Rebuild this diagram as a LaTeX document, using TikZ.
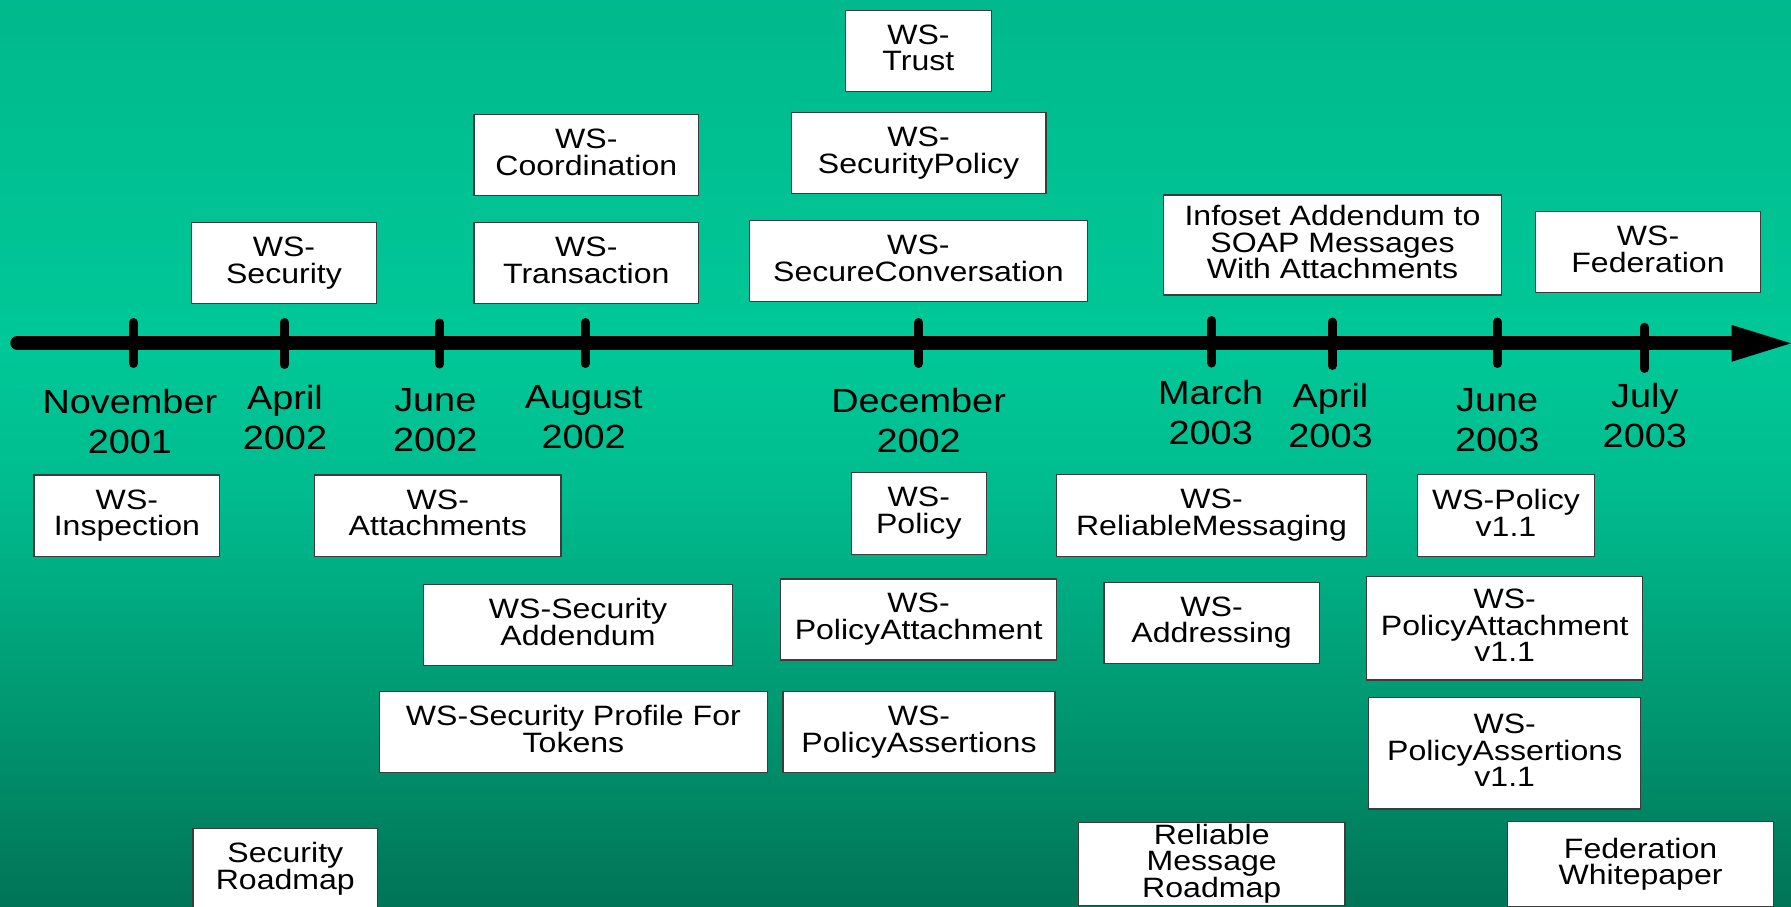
\documentclass[tikz,border=0pt]{standalone}
\usepackage{fontspec}
\newfontfamily\boxfont{Liberation Sans}[FakeStretch=1.145]
\newfontfamily\datefont{Liberation Sans}[FakeStretch=1.13]

\definecolor{bgtop}{RGB}{0,185,140}
\definecolor{bgbright}{RGB}{0,200,152}
\definecolor{bgmid}{RGB}{0,188,143}
\definecolor{bglow}{RGB}{0,152,113}
\definecolor{bgbot}{RGB}{0,116,86}
\definecolor{boxline}{RGB}{60,60,60}

% slide background, lightest just above the time axis
\pgfdeclareverticalshading{slidebg}{100bp}{color(0bp)=(bgbot); color(25bp)=(bgbot);
  color(36bp)=(bglow); color(48bp)=(bgmid); color(56bp)=(bgbright);
  color(75bp)=(bgtop); color(100bp)=(bgtop)}

\tikzset{
  wsbox/.style={draw=boxline, line width=1.3pt, fill=white, inner sep=0pt,
    align=center, font=\boxfont\fontsize{28}{26.7}\selectfont,
    execute at begin node={\rule{0pt}{20.5pt}},
    execute at end node={\rule[-6pt]{0pt}{6pt}}},
  datelbl/.style={anchor=north, inner sep=0pt, align=center,
    font=\datefont\fontsize{33.5}{40}\selectfont,
    execute at begin node={\rule{0pt}{25pt}}},
  axisline/.style={line width=14pt, line cap=round},
  tickmark/.style={line width=9pt, line cap=round},
}

\begin{document}
\begin{tikzpicture}[x=1pt, y=-1pt]
  \useasboundingbox (0,0) rectangle (1791,906);
  \clip (0,0) rectangle (1791,906);
  \shade[shading=slidebg] (0,0) rectangle (1791,906);

  % time axis with arrow head
  \coordinate (axstart) at (17.3,343);
  \coordinate (axend) at (1732,343);
  \draw[axisline] (axstart) -- (axend);
  \fill (1731.7,325) -- (1791,343.3) -- (1731.7,361.7) -- cycle;

  % tick marks
  \foreach \tx/\ta/\tb in {133.4/322.5/363.5, 284.5/322.5/364.5, 439.7/323/364,
      585/322.5/363.5, 918.8/322.5/363.5, 1211.8/320.5/363, 1332.2/322/365.5,
      1497.4/322/363.5, 1644.6/327.2/368.5}
    \draw[tickmark] (\tx,\ta) -- (\tx,\tb);

  % dates
  \node[datelbl] (d1) at (129.9,389) {November\\2001};
  \node[datelbl] (d2) at (285,385) {April\\2002};
  \node[datelbl] (d3) at (435.3,388.5) {June\\2002};
  \node[datelbl] (d4) at (583.7,385.3) {August\\2002};
  \node[datelbl] (d5) at (918.6,388.2) {December\\2002};
  \node[datelbl] (d6) at (1210.7,380) {March\\2003};
  \node[datelbl] (d7) at (1330.5,383.5) {April\\2003};
  \node[datelbl] (d8) at (1497.2,388) {June\\2003};
  \node[datelbl] (d9) at (1644.8,383.5) {July\\2003};

  % specifications above the axis
  \node[wsbox, minimum width=185.3, minimum height=80.6] (sec) at (284,263) {WS-\\Security};
  \node[wsbox, minimum width=224.9, minimum height=81.4] (coord) at (586.3,155) {WS-\\Coordination};
  \node[wsbox, minimum width=224.9, minimum height=80.6] (trans) at (586.3,263) {WS-\\Transaction};
  \node[wsbox, minimum width=146.2, minimum height=81] (trust) at (918.4,50.8) {WS-\\Trust};
  \node[wsbox, minimum width=254.5, minimum height=80.6] (secpol) at (918.6,153) {WS-\\SecurityPolicy};
  \node[wsbox, minimum width=337.6, minimum height=81] (secconv) at (918.4,261.2) {WS-\\SecureConversation};
  \node[wsbox, minimum width=337.5, minimum height=100] (infoset) at (1332.5,245) {Infoset Addendum to\\SOAP Messages\\With Attachments};
  \node[wsbox, minimum width=224.6, minimum height=81.4] (fed) at (1648,252) {WS-\\Federation};

  % specifications below the axis
  \node[wsbox, minimum width=185.7, minimum height=81.3] (insp) at (126.9,515.7) {WS-\\Inspection};
  \node[wsbox, minimum width=246.4, minimum height=81.3] (att) at (437.8,515.7) {WS-\\Attachments};
  \node[wsbox, minimum width=308.8, minimum height=81] (secadd) at (578,624.8) {WS-Security\\Addendum};
  \node[wsbox, minimum width=388.4, minimum height=80.6] (secprof) at (573.4,732) {WS-Security Profile For\\Tokens};
  \node[wsbox, minimum width=184.8, minimum height=80.6] (secroad) at (285.3,868.6) {Security\\Roadmap};
  \node[wsbox, minimum width=134.7, minimum height=81.6] (pol) at (918.8,513.5) {WS-\\Policy};
  \node[wsbox, minimum width=275.9, minimum height=81] (polatt) at (918.6,619.5) {WS-\\PolicyAttachment};
  \node[wsbox, minimum width=272.1, minimum height=80.6] (polass) at (919,732) {WS-\\PolicyAssertions};
  \node[wsbox, minimum width=310.5, minimum height=81.6] (relmsg) at (1211.5,515.5) {WS-\\ReliableMessaging};
  \node[wsbox, minimum width=215.2, minimum height=81] (addr) at (1211.6,622.8) {WS-\\Addressing};
  \node[wsbox, minimum width=266.5, minimum height=83] (relroad) at (1211.7,863.8) {Reliable\\Message\\Roadmap};
  \node[wsbox, minimum width=176.7, minimum height=81.6] (polv) at (1506,515.5) {WS-Policy\\v1.1};
  \node[wsbox, minimum width=276, minimum height=103.3] (polattv) at (1504.7,628.3) {WS-\\PolicyAttachment\\v1.1};
  \node[wsbox, minimum width=272.2, minimum height=111.3] (polassv) at (1504.7,753.3) {WS-\\PolicyAssertions\\v1.1};
  \node[wsbox, minimum width=265.6, minimum height=85] (fedwp) at (1640.6,864.2) {Federation\\Whitepaper};
\end{tikzpicture}
\end{document}
